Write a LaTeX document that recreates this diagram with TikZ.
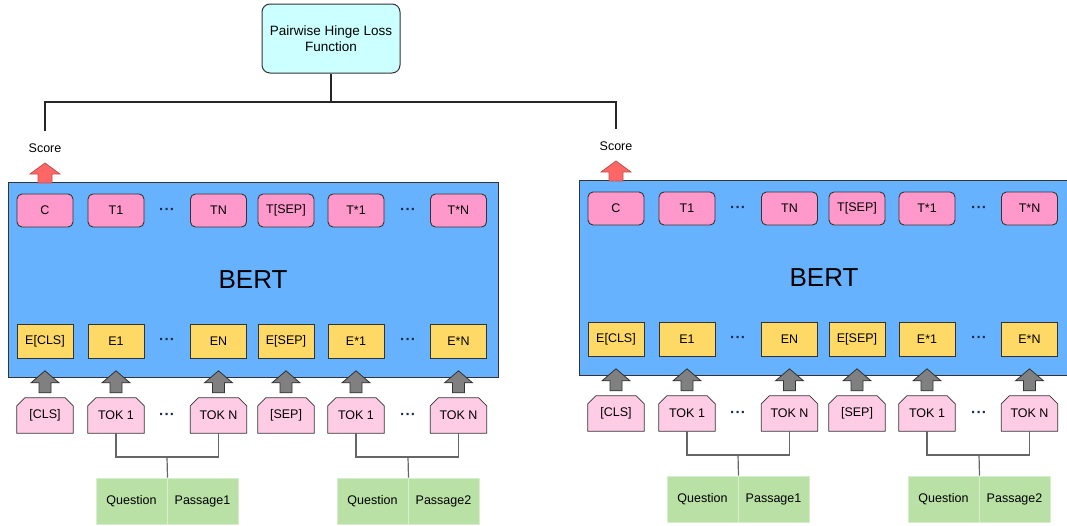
\documentclass[tikz,border=0pt]{standalone}
\usepackage{fontspec}
\setmainfont{Liberation Sans}
\usetikzlibrary{calc,backgrounds}

\definecolor{bertblue}{HTML}{66B2FF}
\definecolor{outpink}{HTML}{FF99CC}
\definecolor{embyellow}{HTML}{FFD966}
\definecolor{tokpink}{HTML}{FFCCE6}
\definecolor{qgreen}{HTML}{B9E0A5}
\definecolor{qborder}{HTML}{D8EDCE}
\definecolor{losscyan}{HTML}{CCFFFF}
\definecolor{scorered}{HTML}{FF6666}
\definecolor{scoreedge}{HTML}{B85450}
\definecolor{upgrey}{HTML}{808080}
\definecolor{edge}{HTML}{333333}
\definecolor{linkgrey}{HTML}{666666}
\definecolor{dotblue}{HTML}{1A2A4A}

\tikzset{
  x=1pt, y=-1pt,
  every node/.style={font=\fontsize{12.5}{15}\selectfont, text=black},
  bertbox/.style={fill=bertblue, draw=edge, line width=1pt,
    minimum width=490pt, minimum height=195pt, inner sep=0pt,
    font=\fontsize{26}{30}\selectfont},
  outbox/.style={fill=outpink, draw=edge, line width=0.9pt, rounded corners=5pt,
    minimum width=56pt, minimum height=33pt, inner sep=0pt},
  embbox/.style={fill=embyellow, draw=edge, line width=0.9pt,
    minimum width=56pt, minimum height=34pt, inner sep=0pt},
  tokspot/.style={minimum width=56pt, minimum height=35pt, inner sep=0pt},
  tokshape/.style={fill=tokpink, draw=edge, line width=0.8pt},
  inbox/.style={fill=qgreen, draw=qborder, line width=1pt,
    minimum width=71pt, minimum height=46pt, inner sep=0pt},
  dotsnode/.style={inner sep=0pt, text=dotblue, font=\fontsize{15}{17}\bfseries},
  link/.style={draw=linkgrey, line width=1.2pt},
  lossline/.style={draw=black!85, line width=2.2pt},
  lossbox/.style={fill=losscyan, draw=edge, line width=1pt, rounded corners=8pt,
    minimum width=138pt, minimum height=69pt, align=center,
    font=\fontsize{13.5}{16}\selectfont},
  scorelabel/.style={inner sep=0pt, font=\fontsize{12.5}{14}\selectfont},
  pics/greyup/.style={code={
    \draw[fill=upgrey, draw=edge, line width=0.8pt]
      (-6,0) -- (6,0) -- (6,-10) -- (14,-10) -- (0,-22) -- (-14,-10) -- (-6,-10) -- cycle;}},
  pics/redup/.style={code={
    \draw[fill=scorered, draw=scoreedge, line width=0.8pt]
      (-7,0) -- (7,0) -- (7,-9) -- (15,-9) -- (0,-20) -- (-15,-9) -- (-7,-9) -- cycle;}},
}

% input token: rectangle with its two upper corners cut off
\newcommand\tokbox[4]{%
  \node[tokspot] (#1) at (#2,#3) {#4};
  \begin{scope}[on background layer]
    \draw[tokshape] (#1.south west) -- ([yshift=-8pt]#1.north west)
      -- ([xshift=8pt]#1.north west) -- ([xshift=-8pt]#1.north east)
      -- ([yshift=-8pt]#1.north east) -- (#1.south east) -- cycle;
  \end{scope}}

\newcommand\middots{\char"B7\kern0.3pt\char"B7\kern0.3pt\char"B7}

% one BERT encoder with its inputs and its score output
\newcommand\bertpanel[4]{% #1 prefix, #2 dx, #3 dy, #4 second passage label
  \begin{scope}[shift={(#2,#3)}]
    \node[bertbox] (#1-bert) at (253,279.5) {BERT};
    % output row
    \node[outbox] (#1-oC)  at (45,210.5)  {C};
    \node[outbox] (#1-o1)  at (116,210.5) {T1};
    \node[dotsnode] (#1-od1) at (167,211) {\middots};
    \node[outbox] (#1-oN)  at (218.5,210.5) {TN};
    \node[outbox] (#1-oS)  at (286,210.5) {T[SEP]};
    \node[outbox] (#1-oA)  at (356,210.5) {T*1};
    \node[dotsnode] (#1-od2) at (408,211) {\middots};
    \node[outbox] (#1-oB)  at (458.5,210.5) {T*N};
    % embedding row
    \node[embbox] (#1-eC)  at (45,341)  {E[CLS]};
    \node[embbox] (#1-e1)  at (116,341) {E1};
    \node[dotsnode] (#1-ed1) at (167,341.5) {\middots};
    \node[embbox] (#1-eN)  at (218.5,341) {EN};
    \node[embbox] (#1-eS)  at (286,341) {E[SEP]};
    \node[embbox] (#1-eA)  at (356,341) {E*1};
    \node[dotsnode] (#1-ed2) at (408,341.5) {\middots};
    \node[embbox] (#1-eB)  at (458.5,341) {E*N};
    % input tokens
    \tokbox{#1-tC}{45}{415.5}{[CLS]}
    \tokbox{#1-t1}{116}{415.5}{TOK 1}
    \node[dotsnode] (#1-td1) at (167,416) {\middots};
    \tokbox{#1-tN}{218.5}{415.5}{TOK N}
    \tokbox{#1-tS}{286}{415.5}{[SEP]}
    \tokbox{#1-tA}{356}{415.5}{TOK 1}
    \node[dotsnode] (#1-td2) at (408,416) {\middots};
    \tokbox{#1-tB}{458.5}{415.5}{TOK N}
    % arrows feeding the tokens into the encoder
    \foreach \tk in {tC,t1,tN,tS,tA,tB}
      \pic at ([yshift=5pt]#1-\tk.north) {greyup};
    % question / passage pairs
    \node[inbox] (#1-q1) at (131.5,501) {Question};
    \node[inbox] (#1-p1) at (202.5,501) {Passage1};
    \node[inbox] (#1-q2) at (372.5,501) {Question};
    \node[inbox] (#1-p2) at (443.5,501) {#4};
    \coordinate (#1-j1) at (167,457);
    \coordinate (#1-j2) at (408,457);
    \draw[link] (#1-t1.south) |- (#1-j1) -| (#1-tN.south);
    \draw[link] (#1-j1) -- (#1-q1.north east);
    \draw[link] (#1-tA.south) |- (#1-j2) -| (#1-tB.south);
    \draw[link] (#1-j2) -- (#1-q2.north east);
    % score output
    \node[scorelabel] (#1-score) at (45,148) {Score};
    \pic at (45,183) {redup};
    \coordinate (#1-sctop) at (45,131);
  \end{scope}}

\begin{document}
\begin{tikzpicture}
  \useasboundingbox (0,0) rectangle (1067,525);

  \node[lossbox] (loss) at (331,38.5) {Pairwise Hinge Loss\\Function};

  \bertpanel{L}{0}{0}{Passage2}
  \bertpanel{R}{571}{-2}{Passage2}

  \coordinate (bar) at (0,102);
  \draw[lossline] (loss.south) -- (loss.south |- bar);
  \draw[lossline] (L-sctop) -- (L-sctop |- bar) -- (R-sctop |- bar) -- (R-sctop);
\end{tikzpicture}
\end{document}
